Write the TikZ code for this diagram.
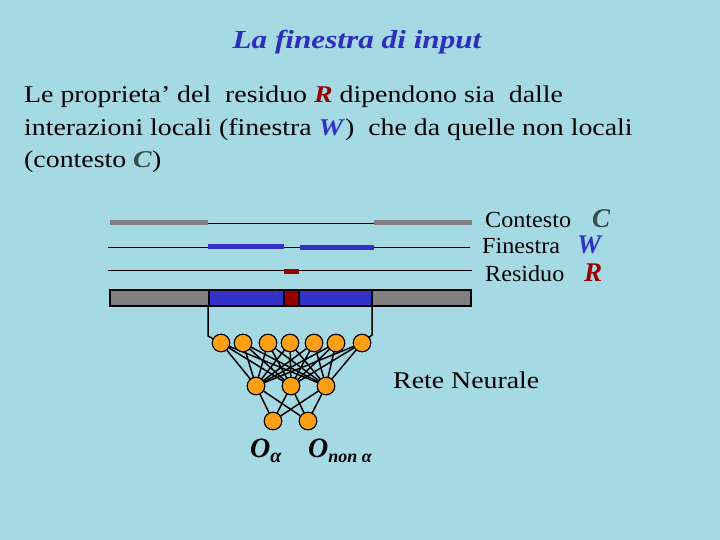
\documentclass[tikz,border=0pt]{standalone}
\usepackage{fontspec}
\setmainfont{Liberation Serif}
\newfontfamily\bodyfont{Liberation Serif}[FakeStretch=1.16]
\newfontfamily\ttlfont{Liberation Serif}[FakeStretch=1.2]
\newfontfamily\lblfont{Liberation Serif}[FakeStretch=1.05]
\definecolor{bg}{RGB}{165,218,228}
\definecolor{ttl}{RGB}{45,45,190}
\definecolor{cgray}{RGB}{128,128,128}
\definecolor{wblue}{RGB}{50,50,200}
\definecolor{rred}{RGB}{150,0,0}
\definecolor{cdark}{RGB}{55,75,75}
\definecolor{neur}{RGB}{255,160,20}
\begin{document}
\begin{tikzpicture}[x=1pt,y=-1pt,
  neuron/.style={circle,draw=black,fill=neur,line width=1pt,minimum size=17.5pt,inner sep=0pt},
  txt/.style={anchor=base west,inner sep=0pt,text=black},
  thin/.style={line width=0.8pt,black},
  segc/.style={line width=5pt,cgray},
  segw/.style={line width=5pt,wblue},
  segr/.style={line width=5pt,rred},
  barbox/.style={draw=black,line width=1.2pt},
  conn/.style={line width=1.5pt,black}]
\fill[bg] (0,0) rectangle (720,540);
\useasboundingbox (0,0) rectangle (720,540);
% title
\node[anchor=base,inner sep=0pt,text=ttl,font=\ttlfont\fontsize{26}{30}\selectfont\bfseries\itshape] (title) at (357,49) {La finestra di input};
% body
\node[txt,font=\bodyfont\fontsize{24}{30}\selectfont] (l1) at (24,103) {Le proprieta’ del\ \ residuo \textcolor{rred}{\textbf{\textit{R}}} dipendono sia\ \ dalle};
\node[txt,font=\bodyfont\fontsize{24}{30}\selectfont] (l2) at (24,136) {interazioni locali (finestra \textcolor{wblue}{\textbf{\textit{W}}})\ \ che da quelle non locali};
\node[txt,font=\bodyfont\fontsize{24}{30}\selectfont] (l3) at (24,168) {(contesto \textcolor{cdark}{\textbf{\textit{C}}})};
% lines
\coordinate (c1) at (110,223); \coordinate (c2) at (208,223); \coordinate (c3) at (374,223); \coordinate (c4) at (472,223);
\draw[thin] (c2) -- (c3);
\draw[segc] (c1) -- (c2);
\draw[segc] (c3) -- (c4);
\coordinate (w0) at (108,247); \coordinate (w1) at (208,246); \coordinate (w2) at (284,246); \coordinate (w3) at (300,247); \coordinate (w4) at (374,247); \coordinate (w5) at (470,247);
\draw[thin] (w0) -- (w5);
\draw[segw] (w1) -- (w2);
\draw[segw] (w3) -- (w4);
\coordinate (r0) at (108,270); \coordinate (r1) at (284,271.5); \coordinate (r2) at (299,271.5); \coordinate (r5) at (472,270);
\draw[thin] (r0) -- (r5);
\draw[segr] (r1) -- (r2);
% bar
\draw[barbox,fill=cgray] (110,290) rectangle (209,306);
\draw[barbox,fill=wblue] (209,290) rectangle (284,306);
\draw[barbox,fill=rred] (284,290) rectangle (299,306);
\draw[barbox,fill=wblue] (299,290) rectangle (372,306);
\draw[barbox,fill=cgray] (372,290) rectangle (471,306);
% right labels
\node[txt,font=\lblfont\fontsize{23}{26}\selectfont] (lc) at (485,228) {Contesto};
\node[txt,font=\lblfont\fontsize{23}{26}\selectfont] (lw) at (482,254) {Finestra};
\node[txt,font=\lblfont\fontsize{23}{26}\selectfont] (lr) at (485,281) {Residuo};
\node[txt,text=cdark,font=\fontsize{27}{28}\selectfont\bfseries\itshape] (lC) at (592,228) {C};
\node[txt,text=wblue,font=\fontsize{27}{28}\selectfont\bfseries\itshape] (lW) at (577,253) {W};
\node[txt,text=rred,font=\fontsize{27}{28}\selectfont\bfseries\itshape] (lR) at (584,281) {R};
\node[txt,font=\bodyfont\fontsize{24}{28}\selectfont] (rete) at (393,388) {Rete Neurale};
% network
\foreach \i/\x in {1/221,2/243,3/268,4/290,5/314,6/336,7/362} \node[neuron] (i\i) at (\x,343) {};
\foreach \i/\x in {1/256,2/291,3/326} \node[neuron] (h\i) at (\x,386) {};
\foreach \i/\x in {1/273,2/308} \node[neuron] (o\i) at (\x,421) {};
\foreach \i in {1,...,7} \foreach \j in {1,2,3} \draw[conn] (i\i) -- (h\j);
\foreach \j in {1,2,3} \foreach \k in {1,2} \draw[conn] (h\j) -- (o\k);
\coordinate (vl) at (208,306); \coordinate (vl2) at (208,336);
\coordinate (vr) at (372,306); \coordinate (vr2) at (372,335);
\draw[conn] (vl) -- (vl2) -- (i1);
\draw[conn] (vr) -- (vr2) -- (i7);
\foreach \i in {1,...,7} \node[neuron] at (i\i) {};
\foreach \i in {1,2,3} \node[neuron] at (h\i) {};
\foreach \i in {1,2} \node[neuron] at (o\i) {};
% outputs
\node[txt,font=\fontsize{28}{30}\selectfont\bfseries\itshape] (oa) at (250,457) {O\raisebox{-5pt}{\fontsize{20}{22}\selectfont α}};
\node[txt,font=\fontsize{28}{30}\selectfont\bfseries\itshape] (ona) at (308,457) {O\raisebox{-5pt}{\fontsize{18}{22}\selectfont non α}};
\end{tikzpicture}
\end{document}
